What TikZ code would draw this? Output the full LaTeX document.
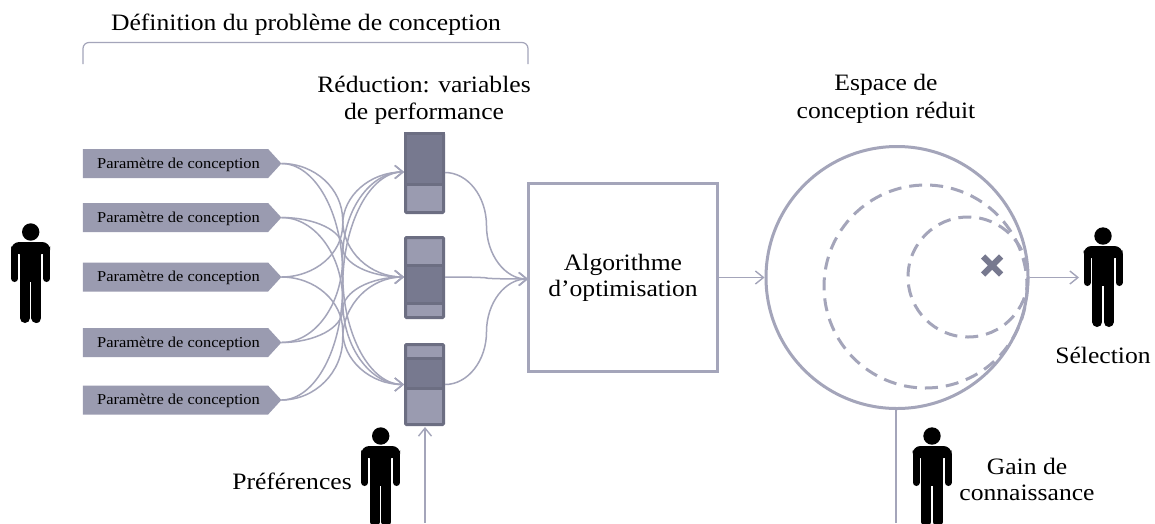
\documentclass[tikz,border=0pt]{standalone}
\usepackage{fontspec}
\setmainfont[FakeStretch=1.09]{Liberation Serif}
\usetikzlibrary{arrows.meta,shapes.symbols,calc}
\definecolor{linec}{HTML}{A4A5BA}
\definecolor{darkf}{HTML}{77798F}
\definecolor{lightf}{HTML}{9A9BB0}
\definecolor{edgec}{HTML}{6C6E82}
\tikzset{
  x=1pt,y=-1pt,
  barb/.style={-{Straight Barb[length=8pt,width=13pt,line width=1.4pt]}},
  conn/.style={draw=linec,line width=1.5pt},
  param/.style={shape=signal,signal to=east,signal from=nowhere,signal pointer angle=95,fill=lightf,draw=none,
     minimum width=198.5pt,minimum height=29pt,inner sep=0pt,outer sep=0pt,
     font=\fontsize{15.1pt}{17pt}\selectfont,text=black},
  label/.style={align=center,font=\fontsize{23.5pt}{27.5pt}\selectfont,text=black,inner sep=0pt},
  barbox/.style={draw=edgec,line width=3pt,fill=lightf,rounded corners=1pt,minimum width=38pt,inner sep=0pt,outer sep=0pt},
  bardark/.style={draw=edgec,line width=3pt,fill=darkf,minimum width=38pt,inner sep=0pt,outer sep=0pt},
  person/.pic={
    \fill[black] (0,0) circle (8.7);
    \fill[black,rounded corners=8pt] (-19.5,22) -- (-19.5,10) -- (19.5,10) -- (19.5,22) -- cycle;
    \fill[black] (-10.7,18) rectangle (10.7,50);
    \draw[black,line width=7pt,line cap=round] (-16,18) -- (-16,46.5);
    \draw[black,line width=7pt,line cap=round] (16,18) -- (16,46.5);
    \draw[black,line width=10pt,line cap=round] (-5.7,46) -- (-5.7,86);
    \draw[black,line width=10pt,line cap=round] (5.7,46) -- (5.7,86);
  },
}
\newcommand{\elbow}[3][]{%
  \draw[conn,#1] let \p1=(#2),\p2=(#3),
     \n1={0.5*(\x1+\x2)},\n2={0.5*(\y1+\y2)},\n3={0.5*(\x2-\x1)},\n4={0.5*(\y2-\y1)} in
     (#2) .. controls ($(\x1,\y1)+(0.55*\n3,0)$) and (\n1,{\n2-0.55*\n4}) .. (\n1,\n2)
          .. controls (\n1,{\n2+0.55*\n4}) and ($(\x2,\y2)-(0.55*\n3,0)$) .. (#3);}
\newcommand{\ptext}{\hspace*{6pt}\raisebox{-4.8pt}[0pt][0pt]{Paramètre de conception}}
\begin{document}
\begin{tikzpicture}
\clip (0,0) rectangle (1155,523);
\fill[white] (0,0) rectangle (1155,523);
% labels
\node[label] (title) at (306,25) {Définition du problème de conception};
\draw[draw=linec,line width=1.2pt,rounded corners=6pt] (83,64) -- (83,42.5) -- (528,42.5) -- (528,64);
\node[label] (reduc) at (424,100.5) {Réduction: variables\\de performance};
\node[label] (espace) at (886,99) {Espace de\\conception réduit};
% parameters
\node[param] (p1) at (175.5,163.5) {\ptext};
\node[param] (p2) at (175.5,217.5) {\ptext};
\node[param] (p3) at (175.5,277) {\ptext};
\node[param] (p4) at (175.5,342.5) {\ptext};
\node[param] (p5) at (175.5,400) {\ptext};
% bars
\draw[barbox] (405.5,133.5) rectangle (443.5,212.5);
\draw[bardark] (405.5,133.5) rectangle (443.5,184);
\draw[barbox] (405.5,237.5) rectangle (443.5,317.5);
\draw[bardark] (405.5,265) rectangle (443.5,303);
\draw[barbox] (405.5,344.5) rectangle (443.5,424.5);
\draw[bardark] (405.5,358) rectangle (443.5,388);
\coordinate (b1i) at (404,172);\coordinate (b1o) at (445,172.5);
\coordinate (b2i) at (404,277);\coordinate (b2o) at (445,277);
\coordinate (b3i) at (404,384.5);\coordinate (b3o) at (445,384.5);
% optimisation box
\node[draw=linec,line width=3pt,fill=white,minimum width=189pt,minimum height=188pt,inner sep=0pt,outer sep=1.5pt,label,draw=linec] (algo) at (623,277.5) {Algorithme\\[-1.5pt]d’optimisation};
\coordinate (algoin) at (528,279);
% connectors
\elbow[barb]{p1.east}{b2i}\elbow[barb]{p1.east}{b3i}
\elbow[barb]{p2.east}{b2i}\elbow[barb]{p2.east}{b3i}
\elbow[barb]{p3.east}{b1i}\elbow[barb]{p3.east}{b3i}
\elbow[barb]{p4.east}{b1i}\elbow[barb]{p4.east}{b2i}
\elbow[barb]{p5.east}{b1i}\elbow[barb]{p5.east}{b2i}
\elbow[barb]{b1o}{algoin}\elbow[barb]{b2o}{algoin}\elbow[barb]{b3o}{algoin}
% circles
\node[circle,draw=linec,line width=3pt,minimum size=262pt,inner sep=0pt,outer sep=1.5pt] (big) at (897,277.5) {};
\draw[linec,line width=3pt,dash pattern=on 13pt off 8pt] (925.5,286.5) circle (101.5);
\draw[linec,line width=3pt,dash pattern=on 13pt off 8pt] (968,277) circle (60);
\draw[darkf,line width=6pt] (983,256.5) -- (1001,274.5) (983,274.5) -- (1001,256.5);
% people
\pic at (30.7,232) {person};
\pic at (1103,236) {person};
\pic at (380.7,436) {person};
\pic at (932,436) {person};
\coordinate (pick) at (1079,277.5);
\coordinate (prefb) at (425,523);
\coordinate (gainb) at (896,523);
\draw[conn,barb] (algo.east) -- (algo.east -| big.west);
\draw[conn,barb] (big.east) -- (pick);
\draw[conn,barb] (prefb) -- (425,427);
\draw[conn] (gainb) -- (896,410);
\node[label] (sel) at (1103,355) {Sélection};
\node[label] (pref) at (292,481) {Préférences};
\node[label] (gain) at (1027,479.5) {Gain de\\[-1pt]connaissance};
\end{tikzpicture}
\end{document}
